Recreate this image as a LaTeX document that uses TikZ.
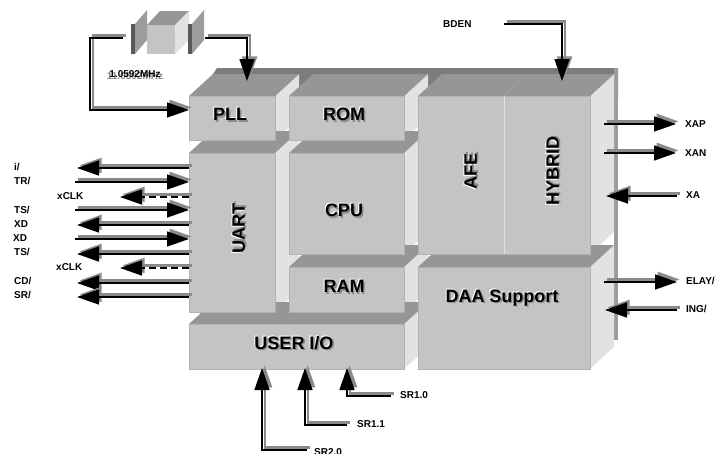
\documentclass[tikz,border=0pt]{standalone}
\usepackage{fontspec}
\setmainfont{Liberation Sans}
\usetikzlibrary{arrows.meta,calc,backgrounds}

\definecolor{frontgrey}{HTML}{C4C4C4}
\definecolor{edgegrey}{HTML}{B2B2B2}
\definecolor{topgrey}{HTML}{969696}
\definecolor{sidegrey}{HTML}{E2E2E2}
\definecolor{backgrey}{HTML}{7C7C7C}
\definecolor{railgrey}{HTML}{9C9C9C}
\definecolor{shadowgrey}{HTML}{8A8A8A}

% Raised lettering for the block names
\newcommand{\raisedtext}[1]{\leavevmode\rlap{\raisebox{1pt}{\kern-1pt\textcolor{white}{#1}}}\rlap{\raisebox{-1.5pt}{\kern1.5pt\textcolor{shadowgrey}{#1}}}#1}

% Top and side faces of a block, taken from its front node
\newcommand{\blockside}[1]{\fill[sideface] (#1.north east) -- ++(24,-22) -- ($(#1.south east)+(24,-22)$) -- (#1.south east) -- cycle;}
\newcommand{\blocktop}[1]{\fill[topface] (#1.north west) -- ++(24,-22) -- ($(#1.north east)+(24,-22)$) -- (#1.north east) -- cycle;}

\begin{document}
\begin{tikzpicture}[
    x=1pt, y=-1pt,
    % Define styles
    front/.style={rectangle, fill=frontgrey, draw=edgegrey, line width=0.9pt, outer sep=0pt, inner sep=0pt},
    sideface/.style={fill=sidegrey},
    topface/.style={fill=topgrey},
    blocklabel/.style={font=\fontsize{18}{20}\selectfont\bfseries, inner sep=0pt},
    pinlabel/.style={font=\fontsize{10}{12}\selectfont\bfseries, anchor=west, inner sep=0pt},
    sig/.style={-{Triangle[length=22pt,width=15pt]}, line width=1.5pt,
        preaction={draw=shadowgrey, line width=2.2pt, transform canvas={shift={(2.6pt,2.6pt)}}}},
    clockline/.style={dash pattern=on 7pt off 4pt},
]
\useasboundingbox (0,0) rectangle (717,453);

% Block fronts
\node[front, minimum width=86pt, minimum height=44pt] (pll) at (232,118) {};
\node[front, minimum width=115pt, minimum height=44pt] (rom) at (346.5,118) {};
\node[front, minimum width=86pt, minimum height=159pt] (uart) at (232,232.5) {};
\node[front, minimum width=115pt, minimum height=101pt] (cpu) at (346.5,203.5) {};
\node[front, minimum width=115pt, minimum height=45pt] (ram) at (346.5,289.5) {};
\node[front, minimum width=215pt, minimum height=45pt] (user) at (296.5,346.5) {};
\node[front, minimum width=86pt, minimum height=158pt] (afe) at (461,175) {};
\node[front, minimum width=86pt, minimum height=158pt] (hybrid) at (547,175) {};
\node[front, minimum width=172pt, minimum height=102pt] (daa) at (504,318) {};
\draw[sidegrey, line width=1pt] (afe.north east) -- (afe.south east);

% Faces behind the fronts
\begin{scope}[on background layer]
    \fill[backgrey] (213,74) -- (217,68) -- (618,68) -- (618,100) -- (213,100) -- cycle;
    \fill[railgrey] (614,68) rectangle (618,340);
    \blockside{pll} \blocktop{pll}
    \blockside{rom} \blocktop{rom}
    \blockside{hybrid} \blocktop{afe} \blocktop{hybrid}
    \draw[topgrey!85!white, line width=0.5pt] (afe.north east) -- ++(24,-22);
    \blockside{uart} \blocktop{uart}
    \blockside{cpu} \blocktop{cpu}
    \blockside{ram} \blocktop{ram}
    \blockside{user} \blocktop{user}
    \blockside{daa} \blocktop{daa}
\end{scope}

% Block names
\node[blocklabel] (pllText) at (230,115) {\raisedtext{PLL}};
\node[blocklabel] (romText) at (344,115) {\raisedtext{ROM}};
\node[blocklabel, rotate=90] (uartText) at (239,228) {\raisedtext{UART}};
\node[blocklabel] (cpuText) at (344,211) {\raisedtext{CPU}};
\node[blocklabel] (ramText) at (344,287) {\raisedtext{RAM}};
\node[blocklabel] (userText) at (294,343) {\raisedtext{USER I/O}};
\node[blocklabel, rotate=90] (afeText) at (471,171) {\raisedtext{AFE}};
\node[blocklabel, rotate=90] (hybridText) at (553,171) {\raisedtext{HYBRID}};
\node[blocklabel] (daaText) at (502,298) {\raisedtext{DAA Support}};

% Crystal
\node[rectangle, fill=frontgrey, minimum width=28pt, minimum height=29pt, outer sep=0pt, inner sep=0pt] (xtal) at (161,39.5) {};
\fill[topgrey] (xtal.north west) -- (160,11) -- (189,11) -- (xtal.north east) -- cycle;
\fill[sidegrey] (xtal.north east) -- (189,11) -- (189,40) -- (xtal.south east) -- cycle;
\fill[railgrey] (135,24) -- (147,10) -- (147,40) -- (135,54) -- cycle;
\fill[black!65] (131,24) rectangle (135,54);
\fill[railgrey] (192,24) -- (204,10) -- (204,40) -- (192,54) -- cycle;
\fill[black!65] (188,24) rectangle (192,54);
\node[font=\fontsize{10}{12}\selectfont\bfseries, inner sep=0pt] (xtalText) at (135,75) {\makebox[0pt]{\raisebox{-2.5pt}{\textcolor{shadowgrey}{11.0592MHz}}}\makebox[0pt]{1.0592MHz}};

% Pin ends
\coordinate (xtalLeft) at (123,38);
\coordinate (xtalRight) at (205,38);
\coordinate (bdenEnd) at (504,24);
\coordinate (riEnd) at (77,168);
\coordinate (dtrEnd) at (75,182);
\coordinate (clkAEnd) at (120,197);
\coordinate (rtsEnd) at (75,210);
\coordinate (rxdEnd) at (77,225);
\coordinate (txdEnd) at (75,239);
\coordinate (ctsEnd) at (77,254);
\coordinate (clkBEnd) at (120,268);
\coordinate (dcdEnd) at (77,283);
\coordinate (dsrEnd) at (77,297);
\coordinate (xapStart) at (604,124);
\coordinate (xapEnd) at (676,124);
\coordinate (xanStart) at (604,153);
\coordinate (xanEnd) at (676,153);
\coordinate (xaStart) at (677,196);
\coordinate (xaEnd) at (606,196);
\coordinate (relayStart) at (604,282);
\coordinate (relayEnd) at (677,282);
\coordinate (ringStart) at (677,310);
\coordinate (ringEnd) at (605,310);
\coordinate (srTwoEnd) at (307,450);
\coordinate (srOneEnd) at (347,425);
\coordinate (srZeroEnd) at (391,396);

% Labels
\node[pinlabel] (bdenLabel) at (443,24) {BDEN};
\node[pinlabel] (riLabel) at (14,167) {i/};
\node[pinlabel] (dtrLabel) at (14,181) {TR/};
\node[pinlabel] (clkALabel) at (57,196) {xCLK};
\node[pinlabel] (rtsLabel) at (14,210) {TS/};
\node[pinlabel] (rxdLabel) at (14,224) {XD};
\node[pinlabel] (txdLabel) at (13,238) {XD};
\node[pinlabel] (ctsLabel) at (14,252) {TS/};
\node[pinlabel] (clkBLabel) at (56,267) {xCLK};
\node[pinlabel] (dcdLabel) at (14,281) {CD/};
\node[pinlabel] (dsrLabel) at (14,295) {SR/};
\node[pinlabel] (xapLabel) at (685,124) {XAP};
\node[pinlabel] (xanLabel) at (685,153) {XAN};
\node[pinlabel] (xaLabel) at (686,195) {XA};
\node[pinlabel] (relayLabel) at (686,281) {ELAY/};
\node[pinlabel] (ringLabel) at (686,309) {ING/};
\node[pinlabel] (srTwoLabel) at (314,452) {SR2.0};
\node[pinlabel] (srOneLabel) at (357,424) {SR1.1};
\node[pinlabel] (srZeroLabel) at (400,395) {SR1.0};

% Crystal and enable into the blocks
\draw[sig] (xtalLeft) -| (90,110) -- (pll.west |- 0,110);
\draw[sig] (xtalRight) -| (247,81);
\draw[sig] (bdenEnd) -| (562,81);

% UART pins
\draw[sig] (riEnd -| uart.west) -- (riEnd);
\draw[sig] (dtrEnd) -- (dtrEnd -| uart.west);
\draw[sig, clockline] (clkAEnd -| uart.west) -- (clkAEnd);
\draw[sig] (rtsEnd) -- (rtsEnd -| uart.west);
\draw[sig] (rxdEnd -| uart.west) -- (rxdEnd);
\draw[sig] (txdEnd) -- (txdEnd -| uart.west);
\draw[sig] (ctsEnd -| uart.west) -- (ctsEnd);
\draw[sig, clockline] (clkBEnd -| uart.west) -- (clkBEnd);
\draw[sig] (dcdEnd -| uart.west) -- (dcdEnd);
\draw[sig] (dsrEnd -| uart.west) -- (dsrEnd);

% Line side pins
\draw[sig] (xapStart) -- (xapEnd);
\draw[sig] (xanStart) -- (xanEnd);
\draw[sig] (xaStart) -- (xaEnd);
\draw[sig] (relayStart) -- (relayEnd);
\draw[sig] (ringStart) -- (ringEnd);

% User inputs
\draw[sig] (srTwoEnd) -| (262,368);
\draw[sig] (srOneEnd) -| (305,368);
\draw[sig] (srZeroEnd) -| (347,368);

\end{tikzpicture}
\end{document}
